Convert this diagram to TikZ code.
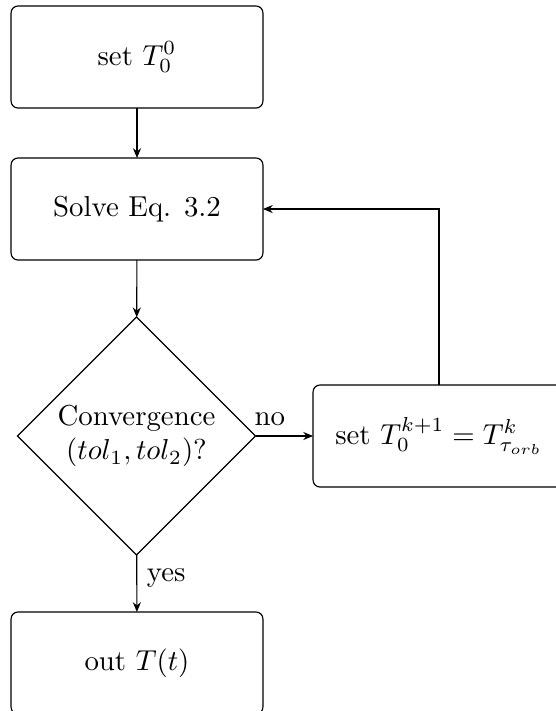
\documentclass[tikz,border=0pt]{standalone}
\usetikzlibrary{shapes.geometric,arrows.meta}
\begin{document}
\begin{tikzpicture}[x=0.347pt,y=-0.347pt,
  box/.style={draw,rounded corners=2.4pt,minimum width=87.4pt,minimum height=35.4pt,outer sep=0pt,line width=0.4pt},
  decision/.style={draw,diamond,aspect=1,minimum width=82.6pt,minimum height=82.6pt,inner sep=0pt,outer sep=0pt,align=center,line width=0.4pt},
  arr/.style={-{Stealth[length=3.4pt,width=2.8pt]},line width=0.4pt}]
\useasboundingbox (0,0) rectangle (556,711);
\node[box] (init) at (137,57) {set $T_0^0$};
\node[box] (solve) at (137,209) {Solve Eq. 3.2};
\node[decision] (conv) at (136.5,436) {Convergence\\$(tol_1,tol_2)$?};
\node[box] (update) at (439,436) {set $T_0^{k+1}=T^k_{\tau_{orb}}$};
\node[box] (out) at (137,663) {out $T(t)$};
\draw[arr] (init) -- (solve);
\draw[arr] (solve) -- (conv);
\draw[arr] (conv) -- node[above,pos=0.25] {no} (update);
\draw[arr] (update.north) |- (solve.east);
\draw[arr] (conv) -- node[right,pos=0.4] {yes} (out);
\end{tikzpicture}
\end{document}
